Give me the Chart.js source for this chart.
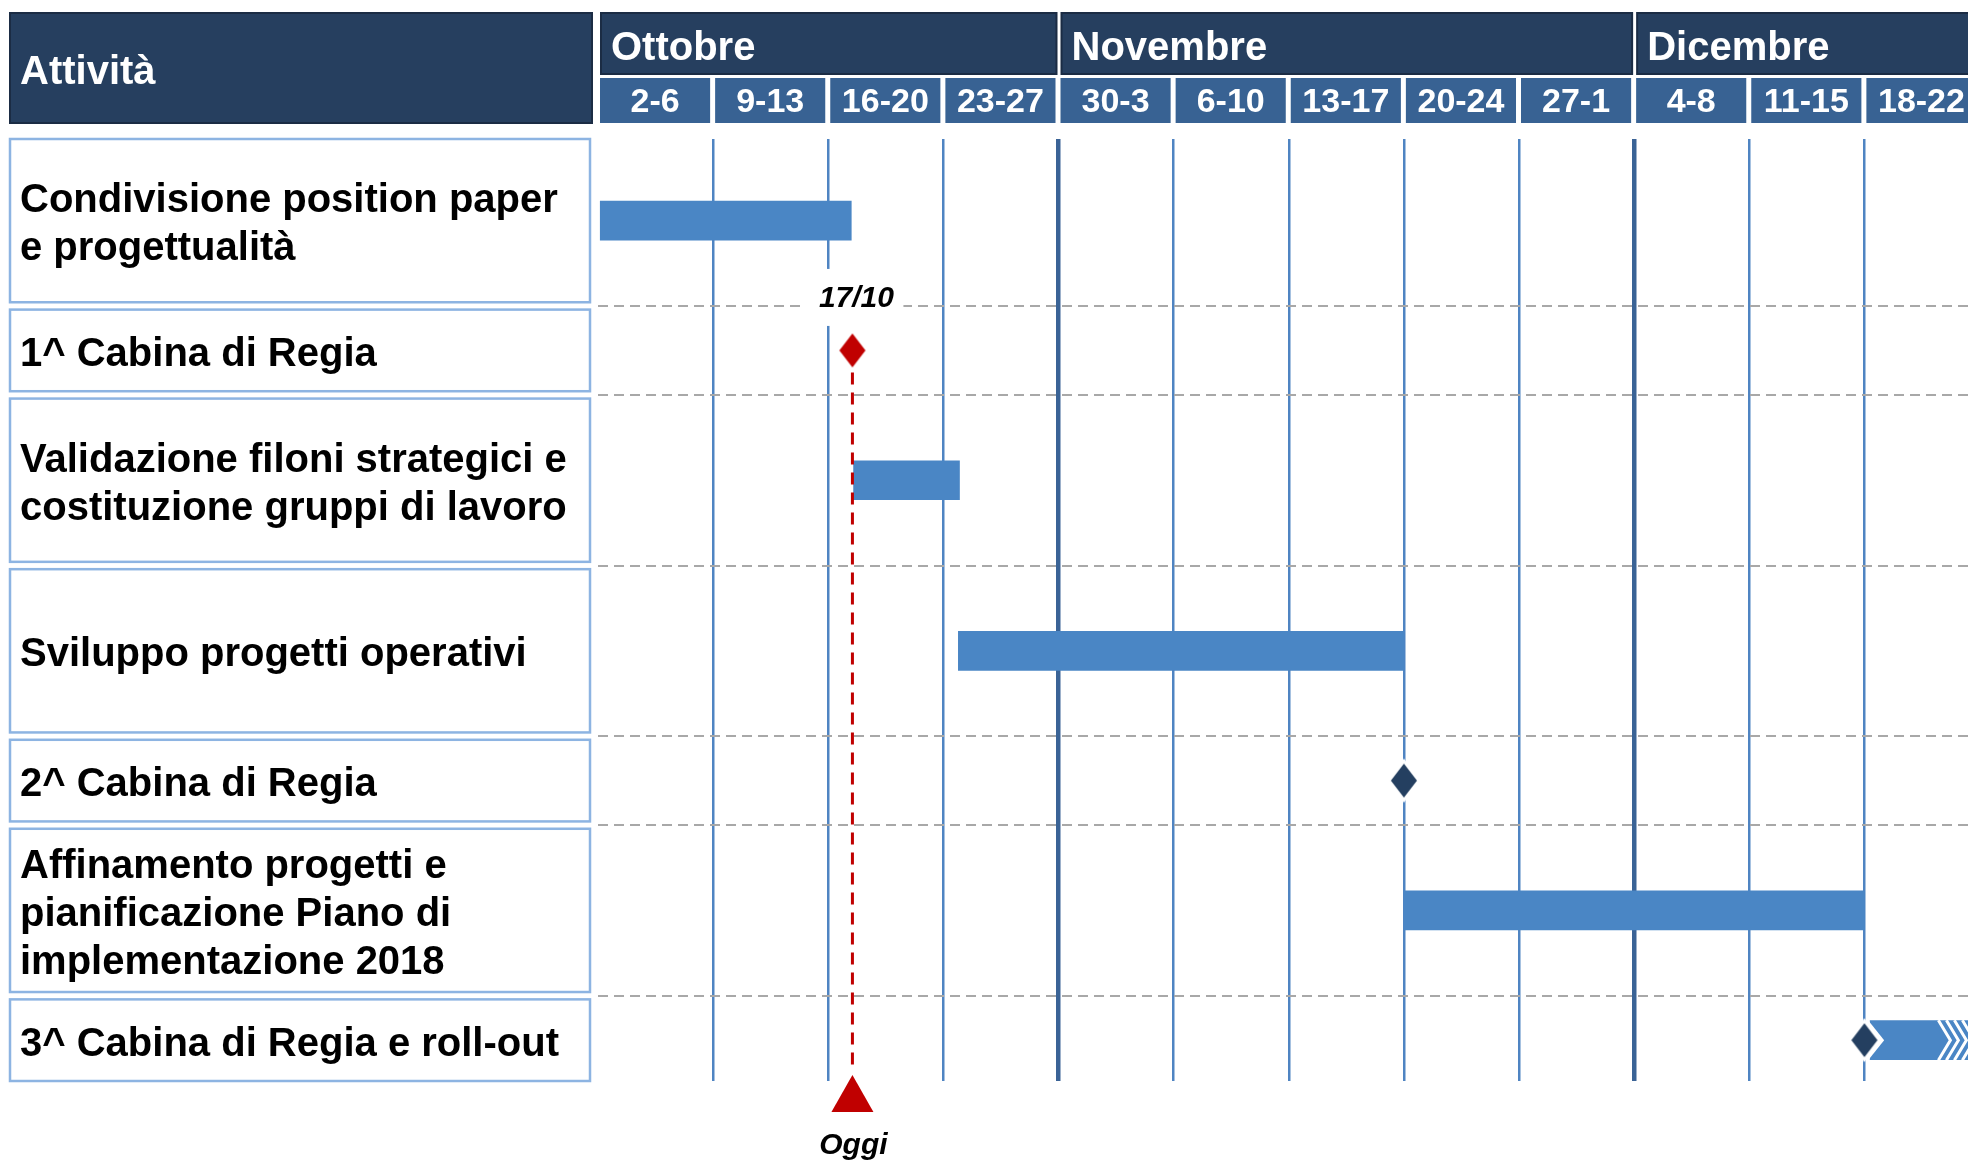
<!DOCTYPE html>
<html lang="it">
<head>
<meta charset="utf-8">
<title>Attività Ottobre - Dicembre</title>
<script src="https://cdn.jsdelivr.net/npm/chart.js@4.4.1/dist/chart.umd.min.js"></script>
<style>
  html, body { margin: 0; padding: 0; background: #fff; }
</style>
</head>
<body>
<canvas id="gantt" width="1968" height="1161"></canvas>
<script>
// --- data ---
const weeks = ['2-6', '9-13', '16-20', '23-27', '30-3', '6-10', '13-17', '20-24', '27-1', '4-8', '11-15', '18-22'];
const months = ['Ottobre', 'Novembre', 'Dicembre'];
const monthFirstWeek = [0, 4, 9];
const monthLastWeek = [4, 9, 12];

const activities = [
  ['Condivisione position paper', 'e progettualità'],
  ['1^ Cabina di Regia'],
  ['Validazione filoni strategici e', 'costituzione gruppi di lavoro'],
  ['Sviluppo progetti operativi'],
  ['2^ Cabina di Regia'],
  ['Affinamento progetti e', 'pianificazione Piano di', 'implementazione 2018'],
  ['3^ Cabina di Regia e roll-out']
];

// weeks counted from monday 2 october, null = nothing in that row
const taskStart = [0, null, 2.22, 3.13, null, 7.0, 11.05];
const taskEnd = [2.2, null, 3.14, 7.0, null, 11.0, 12.5];
const milestone = [null, 2.21, null, null, 7.0, null, 11.0];

const today = 2.21;
const todayDate = '17/10';
const todayText = 'Oggi';
const headerTitle = 'Attività';

// --- layout ---
const FONT = "'Liberation Sans', Arial, sans-serif";
const NAVY = '#263f5f';
const WEEK_BLUE = '#386293';
const BAR_BLUE = '#4a86c5';
const RED = '#c00000';

const ROW_UNITS = [2, 1, 2, 2, 1, 2, 1];
const GAP = 0.09;
const rowTop = [];
let acc = 0;
ROW_UNITS.forEach(u => { rowTop.push(acc); acc += u + GAP; });
const Y_MAX = acc - GAP;
const rowMid = rowTop.map((t, i) => t + ROW_UNITS[i] / 2);
const rowSep = rowTop.slice(1).map(t => t - GAP / 2);

function diamond(fill) {
  const c = document.createElement('canvas');
  c.width = 38;
  c.height = 48;
  const g = c.getContext('2d');
  g.beginPath();
  g.moveTo(19, 4.5);
  g.lineTo(34, 24);
  g.lineTo(19, 43.5);
  g.lineTo(4, 24);
  g.closePath();
  g.fillStyle = fill;
  g.fill();
  g.lineWidth = 3;
  g.strokeStyle = '#fff';
  g.stroke();
  return c;
}
const redDiamond = diamond(RED);
const navyDiamond = diamond('#243f60');

const barData = [];
const msData = [];
activities.forEach((a, i) => {
  if (taskStart[i] !== null) barData.push({ x: [taskStart[i], taskEnd[i]], y: rowMid[i] });
  if (milestone[i] !== null) msData.push({ x: milestone[i], y: rowMid[i] });
});

// header, row labels, today marker
const ganttDecor = {
  id: 'ganttDecor',
  afterDatasetDraw(chart, args) {
    if (args.index !== 1) return;
    // roll-out arrow: notched tail and chevron head
    const ctx = chart.ctx;
    const x = chart.scales.x, y = chart.scales.y;
    const last = activities.length - 1;
    const mid = y.getPixelForValue(rowMid[last]);
    const top = mid - 20, bot = mid + 20;
    const x0 = x.getPixelForValue(taskStart[last]);
    ctx.save();
    ctx.fillStyle = '#fff';
    ctx.beginPath();
    ctx.moveTo(x0 - 2, top);
    ctx.lineTo(x0 + 14, mid);
    ctx.lineTo(x0 - 2, bot);
    ctx.closePath();
    ctx.fill();
    const xt = x.getPixelForValue(11) + 86;
    ctx.strokeStyle = '#fff';
    ctx.lineWidth = 3;
    for (let k = 0; k < 4; k++) {
      ctx.beginPath();
      ctx.moveTo(xt - 12 + k * 8, top);
      ctx.lineTo(xt + k * 8, mid);
      ctx.lineTo(xt - 12 + k * 8, bot);
      ctx.stroke();
    }
    ctx.restore();
  },
  afterDraw(chart) {
    const ctx = chart.ctx;
    const x = chart.scales.x, y = chart.scales.y;
    const area = chart.chartArea;
    const px = v => x.getPixelForValue(v);
    ctx.save();

    // header
    ctx.fillStyle = NAVY;
    ctx.strokeStyle = '#1b2c44';
    ctx.lineWidth = 2;
    ctx.fillRect(10, 13, 582, 110);
    ctx.strokeRect(10, 13, 582, 110);
    ctx.fillStyle = '#fff';
    ctx.font = 'bold 40px ' + FONT;
    ctx.textBaseline = 'middle';
    ctx.textAlign = 'left';
    ctx.fillText(headerTitle, 20, 73);

    months.forEach((m, i) => {
      const l = px(monthFirstWeek[i]) + 3;
      const r = px(monthLastWeek[i]) - 2;
      ctx.fillStyle = NAVY;
      ctx.fillRect(l, 13, r - l, 61);
      ctx.strokeRect(l, 13, r - l, 61);
      ctx.fillStyle = '#fff';
      ctx.font = 'bold 40px ' + FONT;
      ctx.textAlign = 'left';
      ctx.fillText(m, l + 10, 48.5);
    });

    weeks.forEach((w, i) => {
      const l = px(i) + 2;
      const r = px(i + 1) - 3;
      ctx.fillStyle = WEEK_BLUE;
      ctx.fillRect(l, 78, r - l, 45);
      ctx.fillStyle = '#fff';
      ctx.font = 'bold 34px ' + FONT;
      ctx.textAlign = 'center';
      ctx.fillText(w, (l + r) / 2, 102.5);
    });

    // activity boxes
    ctx.strokeStyle = '#8db4e2';
    ctx.lineWidth = 2.5;
    activities.forEach((lines, i) => {
      const t = y.getPixelForValue(rowTop[i]);
      const b = y.getPixelForValue(rowTop[i] + ROW_UNITS[i]);
      ctx.strokeRect(10, t, 580, b - t);
      const mid = (t + b) / 2;
      ctx.fillStyle = '#000';
      ctx.font = 'bold 40px ' + FONT;
      ctx.textAlign = 'left';
      lines.forEach((s, k) => {
        ctx.fillText(s, 20, mid + 4.5 + (k - (lines.length - 1) / 2) * 48);
      });
    });

    // today line
    const tx = px(today);
    const msY = y.getPixelForValue(rowMid[1]);
    ctx.strokeStyle = RED;
    ctx.lineWidth = 3;
    ctx.setLineDash([12, 8]);
    ctx.beginPath();
    ctx.moveTo(tx, msY + 22);
    ctx.lineTo(tx, area.bottom - 14);
    ctx.stroke();
    ctx.setLineDash([]);

    ctx.fillStyle = RED;
    ctx.beginPath();
    ctx.moveTo(tx, area.bottom - 6);
    ctx.lineTo(tx + 21, area.bottom + 31);
    ctx.lineTo(tx - 21, area.bottom + 31);
    ctx.closePath();
    ctx.fill();

    ctx.font = 'italic bold 30px ' + FONT;
    ctx.textAlign = 'center';
    ctx.fillStyle = '#000';
    ctx.fillText(todayText, tx + 1, area.bottom + 65);

    const sepY = y.getPixelForValue(rowSep[0]);
    ctx.fillStyle = '#fff';
    ctx.fillRect(tx - 50, sepY - 37, 101, 57);
    ctx.fillStyle = '#000';
    ctx.fillText(todayDate, tx + 4, sepY - 7);

    ctx.restore();
  }
};

const ctx = document.getElementById('gantt').getContext('2d');
new Chart(ctx, {
  type: 'bar',
  data: {
    datasets: [{
      type: 'scatter',
      data: msData,
      order: 0,
      pointRadius: 20,
      pointStyle: c => (c.raw && c.raw.x === today ? redDiamond : navyDiamond)
    }, {
      type: 'bar',
      data: barData,
      order: 1,
      backgroundColor: BAR_BLUE,
      borderWidth: 0,
      barThickness: 39,
      borderSkipped: false
    }]
  },
  options: {
    responsive: false,
    animation: false,
    indexAxis: 'y',
    layout: { autoPadding: false, padding: { left: 598, top: 139, right: 0, bottom: 80 } },
    plugins: { legend: { display: false }, tooltip: { enabled: false } },
    scales: {
      x: {
        type: 'linear',
        min: 0,
        max: 11.9,
        offset: false,
        afterBuildTicks: s => { s.ticks = weeks.map((w, i) => ({ value: i })); },
        ticks: { display: false },
        border: { display: false },
        grid: {
          offset: false,
          drawTicks: false,
          color: c => {
            const v = c.tick ? c.tick.value : 0;
            if (v === 0) return 'rgba(0,0,0,0)';
            return monthFirstWeek.includes(v) ? '#3a6396' : '#4f84c2';
          },
          lineWidth: c => (c.tick && monthFirstWeek.includes(c.tick.value) ? 4.5 : 2.5)
        }
      },
      y: {
        type: 'linear',
        min: 0,
        max: Y_MAX,
        reverse: true,
        offset: false,
        afterBuildTicks: s => { s.ticks = rowSep.map(v => ({ value: v })); },
        ticks: { display: false },
        border: { display: false, dash: [10, 6] },
        grid: { offset: false, drawTicks: false, color: '#a8a8a8', lineWidth: 2 }
      }
    }
  },
  plugins: [ganttDecor]
});
</script>
</body>
</html>
